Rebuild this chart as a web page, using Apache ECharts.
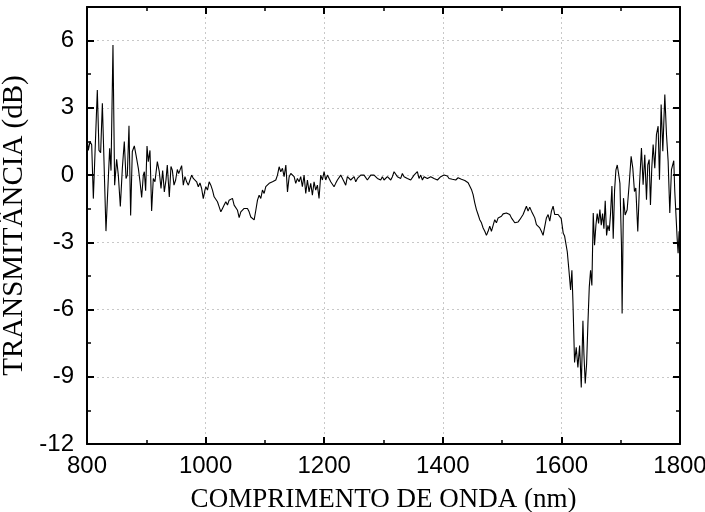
<!DOCTYPE html>
<html>
<head>
<meta charset="utf-8">
<script src="https://cdn.jsdelivr.net/npm/echarts@6/dist/echarts.min.js"></script>
<style>html,body{margin:0;padding:0;background:#fff}#c{width:705px;height:512px}</style>
</head>
<body>
<div id="c"></div>
<script>
const xTitle = 'COMPRIMENTO DE ONDA (nm)';
const yTitle = 'TRANSMITÂNCIA (dB)';
const xTicks = [800, 1000, 1200, 1400, 1600, 1800];
const yTicks = [-12, -9, -6, -3, 0, 3, 6];

const wavelength = [
800,802.2,805.1,807.9,810.7,817.4,820.2,823.0,825.9,832.0,838.2,840.5,843.8,846.6,850.0,852.8,856.2,859.6,862.9,865.8,868.0,870.8,873.6,876.4,879.8,882.6,886.6,889.4,892.2,895.0,896.7,898.9,901.2,903.4,906.2,909.0,911.8,914.6,918.6,921.9,924.8,927.6,930.4,
933.2,935.4,938.8,941.6,943.9,946.7,949.5,952.3,954.6,956.8,959.6,962.4,965.2,968.0,970.9,973.7,976.5,979.3,982.1,984.9,987.7,990.5,993.3,996.1,998.9,
1000.4,1003.2,1006.0,1008.8,1011.6,1014.4,1017.2,1020.0,1022.9,1025.7,1028.5,1031.3,1034.1,1036.9,1039.7,1042.5,1045.3,1048.1,1050.9,1053.8,1056.6,1059.4,1062.2,1065.0,1067.8,1070.6,1073.4,1076.2,1079.0,1081.9,1084.7,1087.5,1090.3,1093.1,1095.9,1098.7,1101.5,1104.3,1107.2,1110.0,1112.8,1115.6,1118.4,1121.2,1124.0,1126.8,1129.6,1132.4,1135.3,1138.1,1140.9,1143.7,1146.5,1149.3,
1152.0,1154.8,1157.6,1160.4,1163.2,1166.1,1168.9,1171.7,1174.5,1177.3,1180.1,1182.9,1185.7,1188.5,1191.3,1194.2,1197.0,1199.8,1202.6,1205.4,1208.2,1211.0,1213.8,1216.6,1219.4,1222.3,1225.1,1227.9,1230.7,1233.5,1236.3,1239.1,1241.9,1244.7,1247.5,1250.4,1253.2,1256.0,1258.8,1261.6,1264.4,1267.2,1270.0,1272.8,1275.6,1278.5,1281.3,1284.1,1286.9,1289.7,1292.5,1295.3,1298.1,1300.9,1303.7,1306.6,1309.4,1312.2,1315.0,1317.8,1320.6,1323.4,1326.2,1329.0,1331.8,1334.7,1337.5,1340.3,1343.1,1345.9,1348.7,1351.5,1354.3,1357.1,1359.9,1362.8,1365.6,1368.4,1371.2,1374.0,1376.8,1379.6,1382.4,1385.2,1388.0,1390.9,1393.7,1396.5,1399.3,1402.1,1404.9,1407.7,1410.5,1413.3,1416.1,1419.0,1421.8,
1425.8,1428.6,1431.4,1434.2,1437.1,1439.9,1442.7,1445.5,1448.3,1451.1,1453.9,1456.7,1459.5,1462.3,1465.2,1468.0,1470.8,1473.6,1476.4,1479.2,1482.0,1484.8,1487.6,1490.4,1493.3,1496.1,1498.9,1501.7,1504.5,1507.3,1510.1,1512.9,1515.7,1518.5,1521.4,1524.2,1527.0,1529.8,1532.6,1535.4,1538.2,1541.0,1543.8,1546.6,1549.5,1552.3,1555.1,1557.9,1560.7,1563.5,1566.3,1569.1,1571.9,1574.7,1577.6,1580.4,1583.2,1586.0,1588.8,1591.6,1594.4,1597.2,
1599.7,1603.1,1605.4,1607.6,1609.9,1612.7,1615.5,1617.7,1619.4,1622.2,1625.0,1627.8,1630.7,1633.5,1636.3,1638.0,1640.2,1642.5,1644.7,1647.0,1649.2,1651.4,1653.7,1655.9,1658.2,1660.4,1662.7,1664.9,1667.2,1669.4,1671.7,1673.9,1676.2,1678.4,1680.7,1682.9,1685.2,1687.4,1689.7,1691.9,1694.2,1696.4,1698.7,
1701.3,1702.4,1704.7,1707.5,1710.9,1714.2,1717.6,1720.4,1723.2,1725.5,1728.8,1731.7,1735.0,1737.8,1740.6,1743.5,1745.7,1748.0,1750.2,1752.4,1754.7,1757.5,1760.3,1763.1,1765.4,1768.2,1771.0,1774.4,1777.2,1780.0,1782.8,1785.6,1789.5,1791.2,1793.5,1795.2,1796.8,1798.5,1800
];

const transmittance = [
1.7,1.1,1.5,1.35,-1.05,3.8,1.1,1.0,3.2,-2.5,1.2,0.2,5.8,-0.45,0.7,0.0,-1.4,0.3,1.5,-0.15,0.0,2.2,-1.8,1.05,1.3,0.9,0.3,-0.3,-1.0,0.0,0.15,-0.7,1.3,0.6,1.1,-1.6,-0.15,-0.3,0.6,0.15,-0.6,0.2,-0.75,
-0.22,0.45,-0.98,0.38,0.22,-0.45,-0.22,0.25,0.07,0.22,0.42,-0.45,-0.07,-0.3,-0.45,-0.22,0.0,-0.15,-0.07,-0.3,-0.52,-0.35,-0.6,-1.05,-0.67,
-0.52,-0.67,-0.3,-0.45,-0.67,-0.97,-1.04,-1.19,-1.42,-1.64,-1.49,-1.34,-1.19,-1.34,-1.12,-1.19,-1.04,-1.34,-1.42,-1.57,-1.9,-1.64,-1.72,-1.49,-1.42,-1.49,-1.64,-1.87,-1.94,-2.0,-1.57,-1.12,-0.9,-1.04,-0.67,-0.82,-0.52,-0.6,-0.37,-0.45,-0.3,-0.37,-0.22,0.0,0.37,0.15,0.3,-0.07,0.45,-0.75,-0.07,0.07,0.0,-0.07,
-0.37,-0.15,-0.3,-0.07,-0.52,0.0,-0.82,-0.22,-0.75,-0.37,-0.9,-0.3,-0.67,-0.45,-1.04,0.0,-0.22,0.15,-0.22,0.0,-0.07,-0.3,-0.37,-0.52,-0.37,-0.22,-0.15,0.0,0.07,-0.3,-0.45,-0.07,0.0,-0.22,-0.15,-0.07,-0.3,-0.15,-0.07,0.0,0.07,0.0,-0.07,-0.22,-0.15,0.0,0.07,0.0,-0.04,-0.15,-0.07,-0.22,-0.07,-0.22,-0.15,-0.07,-0.15,-0.22,-0.07,0.15,0.22,-0.07,0.0,-0.15,0.07,-0.07,0.0,-0.15,-0.07,-0.22,-0.15,0.0,-0.07,0.15,-0.15,0.0,-0.22,-0.07,0.0,-0.15,-0.22,-0.07,0.0,-0.15,-0.07,-0.22,-0.15,-0.07,-0.15,0.0,-0.07,-0.04,-0.15,-0.07,-0.19,-0.15,-0.22,
-0.12,-0.09,-0.19,-0.15,-0.24,-0.19,-0.34,-0.3,-0.64,-0.87,-1.24,-1.54,-1.76,-1.99,-2.13,-2.36,-2.51,-2.69,-2.51,-2.28,-2.51,-2.43,-1.99,-2.13,-1.91,-1.99,-1.84,-1.73,-1.76,-1.69,-1.72,-1.76,-1.91,-1.99,-2.13,-2.06,-2.09,-1.99,-1.91,-1.76,-1.73,-1.39,-1.61,-1.43,-1.61,-1.76,-1.91,-2.21,-2.13,-2.36,-2.51,-2.69,-2.66,-1.91,-1.76,-2.06,-1.61,-1.39,-1.76,-1.84,-1.76,-1.84,
-1.94,-2.6,-2.72,-2.64,-3.42,-4.25,-5.13,-4.25,-5.6,-8.36,-7.69,-8.58,-7.61,-9.48,-6.5,-7.99,-9.3,-8.43,-6.64,-5.0,-4.25,-4.93,-1.69,-3.13,-2.24,-1.72,-2.16,-1.54,-2.24,-1.72,-2.39,-1.15,-2.69,-2.24,-2.49,-1.72,-0.49,-2.84,-0.67,0.22,0.45,0.07,-0.37,
-3.13,-6.18,-1.03,-1.78,-1.55,-0.43,0.84,0.31,-0.73,-0.58,-2.52,-0.43,1.21,-0.43,0.91,-1.1,0.46,0.69,-1.33,0.31,1.36,0.31,1.81,2.18,-0.21,3.15,1.06,3.6,1.81,0.61,-1.69,0.24,0.64,-0.73,-1.93,-2.82,-3.49,-2.51,-3.4
];

const seriesData = wavelength.map((w, i) => [w, transmittance[i]]);

const chart = echarts.init(document.getElementById('c'), null, {renderer: 'canvas'});
const black = '#000';
const tickLabelFont = {fontFamily: 'Liberation Sans', fontSize: 24, color: black};

function baseAxis(extra) {
  return Object.assign({
    type: 'value',
    axisLine: {show: true, onZero: false, lineStyle: {color: black, width: 2}},
    axisTick: {show: true, inside: true, length: 7, lineStyle: {color: black, width: 2}},
    minorTick: {show: true, splitNumber: 2, length: 4, lineStyle: {color: black, width: 1.5}},
    minorSplitLine: {show: false}
  }, extra);
}

chart.setOption({
  animation: false,
  backgroundColor: '#fff',
  grid: {left: 87, right: 25, top: 7, bottom: 68, containLabel: false, outerBoundsMode: 'none'},
  xAxis: [
    baseAxis({
      position: 'bottom', min: xTicks[0], max: xTicks[xTicks.length - 1], interval: 200,
      axisLabel: Object.assign({margin: 10, formatter: v => String(v)}, tickLabelFont),
      splitLine: {show: true, lineStyle: {type: [2, 3], color: '#c8c8c8', width: 1}},
      name: xTitle, nameLocation: 'middle', nameGap: 42,
      nameTextStyle: {fontFamily: 'Liberation Serif', fontSize: 27, color: black}
    }),
    baseAxis({
      position: 'top', min: xTicks[0], max: xTicks[xTicks.length - 1], interval: 200,
      axisLabel: {show: false}, splitLine: {show: false}
    })
  ],
  yAxis: [
    baseAxis({
      position: 'left', min: yTicks[0], max: 7.5, interval: 3,
      axisLabel: Object.assign({margin: 13, showMaxLabel: false, formatter: v => String(v)}, tickLabelFont),
      splitLine: {show: true, lineStyle: {type: [2, 3], color: '#c8c8c8', width: 1}},
      name: yTitle, nameLocation: 'middle', nameGap: 55,
      nameTextStyle: {fontFamily: 'Liberation Serif', fontSize: 29, color: black}
    }),
    baseAxis({
      position: 'right', min: yTicks[0], max: 7.5, interval: 3,
      axisLabel: {show: false}, splitLine: {show: false}
    })
  ],
  series: [{
    type: 'line',
    data: seriesData,
    xAxisIndex: 0, yAxisIndex: 0,
    showSymbol: false,
    symbol: 'none',
    lineStyle: {color: black, width: 1.1},
    clip: true
  }]
});
</script>
</body>
</html>
